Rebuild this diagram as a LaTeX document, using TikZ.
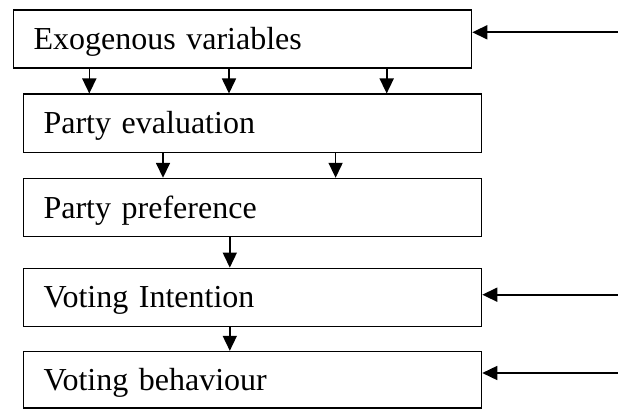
\documentclass[tikz,border=0pt]{standalone}
\usepackage{fontspec}
\setmainfont{Liberation Serif}
\usetikzlibrary{arrows.meta}
\begin{document}
\begin{tikzpicture}[x=1pt, y=-1pt,
  box/.style={draw, line width=1.6pt, anchor=north west, minimum width=458pt, minimum height=58pt,
    text width=418pt, inner xsep=20pt, inner ysep=0pt, align=left, text height=21pt, text depth=0pt,
    font=\fontsize{32}{38}\selectfont},
  arr/.style={-{Triangle[length=15pt,width=14pt]}, line width=1.6pt}]
\useasboundingbox (0,0) rectangle (618,409);
\node[box] (exo) at (12.7,9.3) {Exogenous variables};
\node[box] (eval) at (22.7,93.5) {Party evaluation};
\node[box] (pref) at (22.7,177.8) {Party preference};
\node[box] (intent) at (22.7,267.6) {Voting Intention};
\node[box, minimum height=56.6pt] (behav) at (22.7,350.8) {Voting behaviour};
\draw[arr] (89.3,0 |- exo.south) -- (89.3,0 |- eval.north);
\draw[arr] (229,0 |- exo.south) -- (229,0 |- eval.north);
\draw[arr] (386.7,0 |- exo.south) -- (386.7,0 |- eval.north);
\draw[arr] (163,0 |- eval.south) -- (163,0 |- pref.north);
\draw[arr] (335.6,0 |- eval.south) -- (335.6,0 |- pref.north);
\draw[arr] (229.8,0 |- pref.south) -- (229.8,0 |- intent.north);
\draw[arr] (229.8,0 |- intent.south) -- (229.8,0 |- behav.north);
\coordinate (ext1) at (618,32.3);
\coordinate (ext2) at (618,294.7);
\coordinate (ext3) at (618,373);
\draw[arr] (ext1) -- (ext1 -| exo.east);
\draw[arr] (ext2) -- (ext2 -| intent.east);
\draw[arr] (ext3) -- (ext3 -| behav.east);
\end{tikzpicture}
\end{document}
